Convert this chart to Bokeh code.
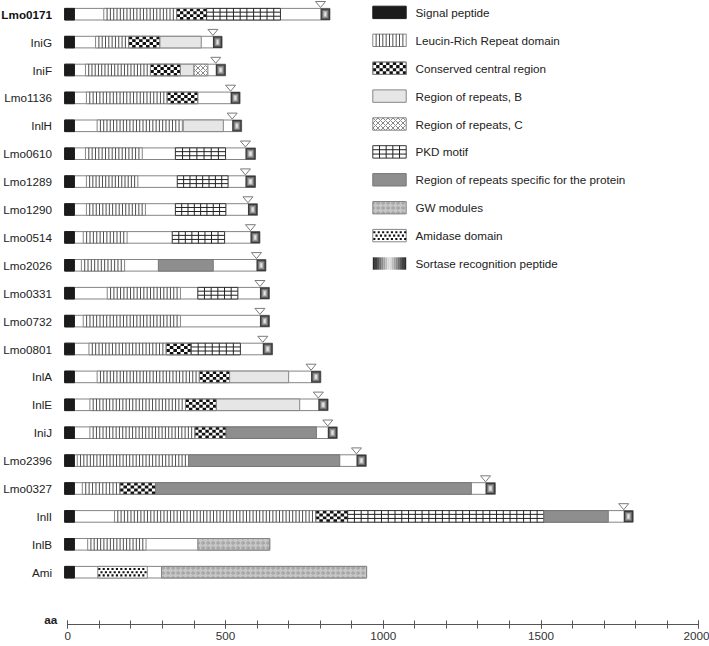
import numpy as np
from bokeh.plotting import figure
from bokeh.models import Range1d, LinearAxis, FixedTicker
from bokeh.embed import file_html
from bokeh.resources import INLINE
from bokeh.core.properties import value

FONT = "Liberation Sans"

# ---------------- data (amino-acid positions) ----------------
proteins = ["Lmo0171", "IniG", "IniF", "Lmo1136", "InlH", "Lmo0610", "Lmo1289", "Lmo1290",
            "Lmo0514", "Lmo2026", "Lmo0331", "Lmo0732", "Lmo0801", "InlA", "InlE", "IniJ",
            "Lmo2396", "Lmo0327", "InlI", "InlB", "Ami"]
protein_end = [831, 489, 500, 546, 551, 595, 595, 601, 609, 628, 639, 639, 649, 802, 825, 854,
               946, 1355, 1792, 640, 947]
bar_start = -10
signal_end = 21

lrr = [("Lmo0171", 114, 345), ("IniG", 88, 193), ("IniF", 56, 262), ("Lmo1136", 59, 315),
       ("InlH", 93, 363), ("Lmo0610", 56, 236), ("Lmo1289", 59, 222), ("Lmo1290", 59, 246),
       ("Lmo0514", 49, 188), ("Lmo2026", 43, 180), ("Lmo0331", 125, 357), ("Lmo0732", 49, 357),
       ("Lmo0801", 67, 312), ("InlA", 93, 417), ("InlE", 70, 373), ("IniJ", 70, 403),
       ("Lmo2396", 30, 383), ("Lmo0327", 46, 165), ("InlI", 148, 786), ("InlB", 63, 248)]
conserved = [("Lmo0171", 345, 440), ("IniG", 193, 292), ("IniF", 262, 357), ("Lmo1136", 315, 412),
             ("Lmo0801", 312, 391), ("InlA", 417, 513), ("InlE", 373, 471), ("IniJ", 403, 502),
             ("Lmo0327", 165, 278), ("InlI", 786, 887)]
repeats_b = [("IniG", 292, 423), ("IniF", 357, 400), ("InlH", 366, 493), ("InlA", 513, 700),
             ("InlE", 471, 735)]
repeats_c = [("IniF", 400, 444)]
pkd = [("Lmo0171", 440, 674), ("Lmo0610", 341, 500), ("Lmo1289", 347, 508), ("Lmo1290", 341, 501),
       ("Lmo0514", 331, 497), ("Lmo0331", 412, 539), ("Lmo0801", 391, 547), ("InlI", 887, 1509)]
specific = [("Lmo2026", 287, 461), ("IniJ", 502, 788), ("Lmo2396", 383, 862),
            ("Lmo0327", 278, 1279), ("InlI", 1509, 1713)]
gw = [("InlB", 412, 640), ("Ami", 297, 947)]
amidase = [("Ami", 95, 252)]
sortase = [("Lmo0171", 801), ("IniG", 460), ("IniF", 469), ("Lmo1136", 516), ("InlH", 521),
           ("Lmo0610", 563), ("Lmo1289", 563), ("Lmo1290", 571), ("Lmo0514", 579),
           ("Lmo2026", 598), ("Lmo0331", 609), ("Lmo0732", 609), ("Lmo0801", 618),
           ("InlA", 771), ("InlE", 794), ("IniJ", 824), ("Lmo2396", 915), ("Lmo0327", 1324),
           ("InlI", 1762)]

legend_labels = ["Signal peptide", "Leucin-Rich Repeat domain", "Conserved central region",
                 "Region of repeats, B", "Region of repeats, C", "PKD motif",
                 "Region of repeats specific for the protein", "GW modules", "Amidase domain",
                 "Sortase recognition peptide"]

axis_ticks = [0, 500, 1000, 1500, 2000]
axis_minor = list(range(0, 2001, 100))
axis_unit = "aa"

# ---------------- layout ----------------
W, H = 709, 646
PX_PER_AA = 0.3155
ORIGIN_PX = 67.3
ROW_PX = 27.9
ROW0_PX = 13.7
FRAME_H = 624

def ax(px):
    return px / PX_PER_AA

def ay(px):
    return px / ROW_PX

def aa_at(fig_px):
    return (fig_px - ORIGIN_PX) / PX_PER_AA

X0 = aa_at(0)
X1 = aa_at(W)
YT = -ROW0_PX / ROW_PX
YB = YT + FRAME_H / ROW_PX

idx = {n: i for i, n in enumerate(proteins)}
BORDER = "#858585"
BAR_HALF = ay(5.8)
LEG_HALF = ay(6.2)

p = figure(width=W, height=H, x_range=Range1d(X0, X1), y_range=Range1d(YB, YT),
           x_axis_type=None, y_axis_type=None, toolbar_location=None, output_backend="svg",
           min_border_left=0, min_border_right=0, min_border_top=0,
           min_border_bottom=H - FRAME_H,
           outline_line_color=None, background_fill_color="white", border_fill_color="white")


def unpack(regs):
    x0 = np.array([r[1] for r in regs], float)
    x1 = np.array([r[2] for r in regs], float)
    y = np.array([idx[r[0]] for r in regs], float)
    return x0, x1, y


def box(x0, x1, y, half, fill, line=BORDER, **kw):
    p.quad(left=x0, right=x1, top=y - half, bottom=y + half, fill_color=fill,
           line_color=line, line_width=1, **kw)


def draw_lrr(x0, x1, y, half):
    box(x0, x1, y, half, "white")
    xs, ys = [], []
    for a, b, yy in zip(x0, x1, y):
        n = max(2, int(round((b - a) * PX_PER_AA / 3.3)))
        for k in range(1, n):
            xs.append(a + k * (b - a) / n)
            ys.append(yy)
    xs, ys = np.array(xs), np.array(ys)
    p.segment(x0=xs, y0=ys - half, x1=xs, y1=ys + half, line_color="#3a3a3a", line_width=0.9)


def draw_pkd(x0, x1, y, half):
    box(x0, x1, y, half, "white", line="#333333")
    xs, ys = [], []
    for a, b, yy in zip(x0, x1, y):
        n = max(2, int(round((b - a) * PX_PER_AA / 6.7)))
        for k in range(1, n):
            xs.append(a + k * (b - a) / n)
            ys.append(yy)
    xs, ys = np.array(xs), np.array(ys)
    p.segment(x0=xs, y0=ys - half, x1=xs, y1=ys + half, line_color="#222222", line_width=1)
    for f in (-1 / 3, 1 / 3):
        p.segment(x0=x0, y0=y + f * half * 1.05, x1=x1, y1=y + f * half * 1.05,
                  line_color="#222222", line_width=1)


def draw_checker(x0, x1, y, half):
    box(x0, x1, y, half, "white")
    l, r, t, btm = [], [], [], []
    nrow = 4
    for a, b, yy in zip(x0, x1, y):
        ncol = max(2, int(round((b - a) * PX_PER_AA / 3.4)))
        cw = (b - a) / ncol
        rh = 2 * half / nrow
        for c in range(ncol):
            for rr in range(nrow):
                if (c + rr) % 2 == 0:
                    l.append(a + c * cw)
                    r.append(a + (c + 1) * cw)
                    t.append(yy - half + rr * rh)
                    btm.append(yy - half + (rr + 1) * rh)
    p.quad(left=l, right=r, top=t, bottom=btm, fill_color="#111111", line_color=None)
    p.quad(left=x0, right=x1, top=y - half, bottom=y + half, fill_color=None,
           line_color=BORDER, line_width=1)


def draw_dots(x0, x1, y, half):
    box(x0, x1, y, half, "white")
    xs, ys = [], []
    for a, b, yy in zip(x0, x1, y):
        sp = ax(4.4)
        for j, f in enumerate((-0.55, 0.0, 0.55)):
            xx = a + sp * (0.35 if j % 2 == 0 else 0.85)
            while xx < b - sp * 0.2:
                xs.append(xx)
                ys.append(yy + f * half)
                xx += sp
    p.scatter(x=xs, y=ys, marker="square", size=2.1, fill_color="#111111", line_color=None)


def draw_hatch(x0, x1, y, half, fill, pattern, hcolor, scale, weight):
    p.quad(left=x0, right=x1, top=y - half, bottom=y + half, fill_color=fill,
           line_color=BORDER, line_width=1, hatch_pattern=pattern, hatch_color=hcolor,
           hatch_scale=scale, hatch_weight=weight)


def draw_sortase(x0, x1, y, half):
    insets = [0, 1.3, 2.3, 3.2, 4.0]
    colors = ["#3a3a3a", "#6c6c6c", "#989898", "#c2c2c2", "#e6e6e6"]
    for ins, col in zip(insets, colors):
        p.quad(left=x0 + ax(ins), right=x1 - ax(ins), top=y - half + ay(ins),
               bottom=y + half - ay(ins), fill_color=col, line_color=None)


# ---------------- protein bars ----------------
ny = np.arange(len(proteins), dtype=float)
pend = np.array(protein_end, float)
box(np.full(len(proteins), bar_start, float), pend, ny, BAR_HALF, "white")
box(np.full(len(proteins), bar_start, float), np.full(len(proteins), signal_end, float), ny,
    BAR_HALF, "#1b1b1b", line="#1b1b1b")

draw_lrr(*unpack(lrr), BAR_HALF)
draw_checker(*unpack(conserved), BAR_HALF)
x0, x1, yy = unpack(repeats_b)
box(x0, x1, yy, BAR_HALF, "#e6e6e6")
draw_hatch(*unpack(repeats_c), BAR_HALF, "white", "x", "#6a6a6a", 5, 0.8)
draw_pkd(*unpack(pkd), BAR_HALF)
x0, x1, yy = unpack(specific)
box(x0, x1, yy, BAR_HALF, "#8e8e8e", line="#777777")
draw_hatch(*unpack(gw), BAR_HALF, "#c6c6c6", "o", "#8a8a8a", 5, 0.7)
draw_dots(*unpack(amidase), BAR_HALF)

s_start = np.array([s[1] for s in sortase], float)
s_y = np.array([idx[s[0]] for s in sortase], float)
s_end = pend[[idx[s[0]] for s in sortase]]
draw_sortase(s_start, s_end, s_y, BAR_HALF)

tri_x = [[xs - ax(5), xs + ax(5), xs] for xs in s_start]
tri_y = [[yv - ay(12.7), yv - ay(12.7), yv - ay(6.7)] for yv in s_y]
p.patches(xs=tri_x, ys=tri_y, fill_color="white", line_color="#7a7a7a", line_width=1)

# protein names
p.text(x=[bar_start] * (len(proteins) - 1), y=ny[1:], text=proteins[1:], x_offset=-12.6,
       text_align="right", text_baseline="middle", text_font=value(FONT),
       text_font_size="11.7px", text_color="#222222")
p.text(x=[bar_start], y=ny[:1], text=proteins[:1], x_offset=-12.6, text_align="right",
       text_baseline="middle", text_font=value(FONT), text_font_size="11.7px",
       text_font_style="bold", text_color="#111111")

# ---------------- legend ----------------
SW_L, SW_R, TXT_X = aa_at(372.3), aa_at(405.7), aa_at(415.0)
ly = np.arange(len(legend_labels), dtype=float) - ay(1.8)
one = lambda k: (np.array([SW_L]), np.array([SW_R]), np.array([ly[k]]))
box(*one(0), LEG_HALF, "#1b1b1b", line="#1b1b1b")
draw_lrr(*one(1), LEG_HALF)
draw_checker(*one(2), LEG_HALF)
box(*one(3), LEG_HALF, "#e6e6e6")
draw_hatch(*one(4), LEG_HALF, "white", "x", "#6a6a6a", 5, 0.8)
draw_pkd(*one(5), LEG_HALF)
box(*one(6), LEG_HALF, "#8e8e8e", line="#777777")
draw_hatch(*one(7), LEG_HALF, "#c6c6c6", "o", "#8a8a8a", 5, 0.7)
draw_dots(*one(8), LEG_HALF)
nstrip = 16
edges = np.linspace(SW_L, SW_R, nstrip + 1)
tpos = (np.arange(nstrip) + 0.5) / nstrip
lev = (235 - 205 * (np.abs(tpos - 0.5) * 2) ** 0.9).astype(int)
cols = ["#%02x%02x%02x" % (v, v, v) for v in lev]
p.quad(left=edges[:-1], right=edges[1:], top=ly[9] - LEG_HALF, bottom=ly[9] + LEG_HALF,
       fill_color=cols, line_color=None)

p.text(x=[TXT_X] * len(legend_labels), y=ly, text=legend_labels, text_align="left",
       text_baseline="middle", text_font=value(FONT), text_font_size="11.7px",
       text_color="#222222")

# ---------------- axis ----------------
xaxis = LinearAxis(ticker=FixedTicker(ticks=axis_ticks, minor_ticks=axis_minor), bounds=(0, 2000),
                   axis_line_color="#555555", major_tick_line_color="#555555",
                   minor_tick_line_color="#555555", major_tick_in=4, major_tick_out=4,
                   minor_tick_in=4, minor_tick_out=4, major_label_standoff=3,
                   major_label_text_font=FONT, major_label_text_font_size="11.7px",
                   major_label_text_color="#333333")
p.add_layout(xaxis, "below")

# unit label beside the axis line (kept inside the frame so it is not clipped)
p.text(x=[aa_at(56.7)], y=[YB - ay(5.2)], text=[axis_unit], text_align="right",
       text_baseline="middle", text_font=value(FONT), text_font_size="11.7px",
       text_font_style="bold", text_color="#222222")

open("out.html", "w").write(file_html(p, INLINE))
